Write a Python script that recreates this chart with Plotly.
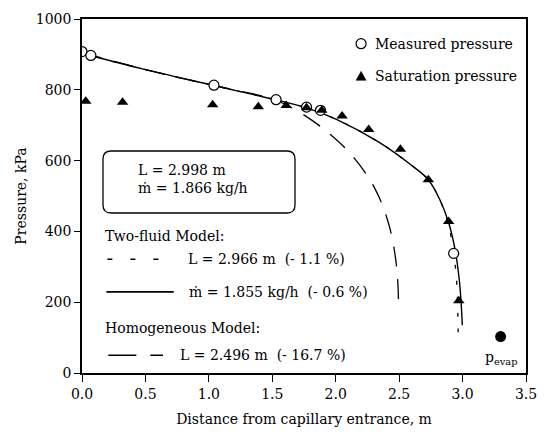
import plotly.graph_objects as go

# ---- data ----
meas_x = [0.0, 0.07, 1.04, 1.53, 1.77, 1.88, 2.93]
meas_p = [908, 897, 813, 772, 751, 742, 338]

sat_x = [0.03, 0.32, 1.03, 1.39, 1.61, 1.77, 1.89, 2.05, 2.26, 2.51, 2.73, 2.89, 2.97]
sat_p = [768, 765, 758, 752, 756, 749, 742, 726, 688, 632, 546, 428, 204]

evap_x = [3.30]
evap_p = [103]

tf_solid_x = [0.0, 0.07, 0.5, 1.04, 1.5, 1.77, 2.01, 2.34, 2.6, 2.73, 2.82, 2.89, 2.94, 2.975, 2.99, 2.998]
tf_solid_p = [905, 897, 857, 812, 774, 749, 716, 652, 586, 546, 490, 425, 350, 260, 190, 135]

tf_dash_x = [0.0, 0.07, 0.5, 1.04, 1.5, 1.77, 2.01, 2.34, 2.6, 2.73, 2.82, 2.885, 2.93, 2.955, 2.963, 2.966]
tf_dash_p = [905, 897, 857, 812, 774, 749, 716, 652, 586, 546, 490, 425, 340, 250, 160, 95]

hom_x = [0.0, 0.5, 1.04, 1.5, 1.68, 1.91, 2.13, 2.31, 2.42, 2.48, 2.496]
hom_p = [905, 857, 812, 774, 744, 688, 614, 520, 418, 300, 185]

x_ticks = [0.0, 0.5, 1.0, 1.5, 2.0, 2.5, 3.0, 3.5]
y_ticks = [0, 200, 400, 600, 800, 1000]

FONT = "DejaVu Serif, serif"

W, H = 548, 445
L_M, R_M, T_M, B_M = 82, 11, 15, 72
PW, PH = W - L_M - R_M, H - T_M - B_M


def px(x):
    return (x - L_M) / PW


def py(y):
    return (H - B_M - y) / PH


fig = go.Figure()

fig.add_trace(go.Scatter(x=hom_x, y=hom_p, mode="lines", line=dict(color="black", width=1.3, dash="20px,13px"),
                         line_shape="spline", showlegend=False))
fig.add_trace(go.Scatter(x=tf_dash_x, y=tf_dash_p, mode="lines", line=dict(color="black", width=1.3, dash="4px,12px"),
                         line_shape="spline", showlegend=False))
fig.add_trace(go.Scatter(x=tf_solid_x, y=tf_solid_p, mode="lines", line=dict(color="black", width=1.4),
                         line_shape="spline", showlegend=False))
fig.add_trace(go.Scatter(x=meas_x, y=meas_p, mode="markers",
                         marker=dict(symbol="circle", size=10, color="white", line=dict(color="black", width=1.2)),
                         showlegend=False))
fig.add_trace(go.Scatter(x=sat_x, y=sat_p, mode="markers",
                         marker=dict(symbol="triangle-up", size=10, color="black"), showlegend=False))
fig.add_trace(go.Scatter(x=evap_x, y=evap_p, mode="markers",
                         marker=dict(symbol="circle", size=11, color="black"), showlegend=False))

shapes = []
annotations = []


def note(text, x, y, size=14, xref="paper", xanchor="left"):
    annotations.append(dict(text=text, x=x, y=y, xref=xref, yref="paper", xanchor=xanchor, yanchor="middle",
                            showarrow=False, font=dict(family=FONT, size=size, color="black")))


# top-right legend
shapes.append(dict(type="circle", xref="paper", yref="paper", xsizemode="pixel", ysizemode="pixel",
                   xanchor=px(368), yanchor=py(40), x0=-5, x1=5, y0=-5, y1=5,
                   line=dict(color="black", width=1.2), fillcolor="white"))
shapes.append(dict(type="path", xref="paper", yref="paper", xsizemode="pixel", ysizemode="pixel",
                   xanchor=px(368), yanchor=py(73), path="M -5,-4 L 5,-4 L 0,5 Z",
                   line=dict(color="black", width=0.5), fillcolor="black"))
note("Measured pressure", px(380), py(40))
note("Saturation pressure", px(380), py(73))

# rounded box (pixel coordinates relative to plot top-left)
bx0, bx1, by0, by1, r = 103, 295, 147, 209, 8
pts = [("M", bx0 + r, by0), ("L", bx1 - r, by0), ("Q", bx1, by0, bx1, by0 + r),
       ("L", bx1, by1 - r), ("Q", bx1, by1, bx1 - r, by1), ("L", bx0 + r, by1),
       ("Q", bx0, by1, bx0, by1 - r), ("L", bx0, by0 + r), ("Q", bx0, by0, bx0 + r, by0)]
segs = []
for p in pts:
    cmd, coords = p[0], p[1:]
    xy = []
    for i in range(0, len(coords), 2):
        xy.append(f"{coords[i] - L_M},{-(coords[i + 1] - T_M)}")
    segs.append(cmd + " " + " ".join(xy))
shapes.append(dict(type="path", xref="paper", yref="paper", xsizemode="pixel", ysizemode="pixel",
                   xanchor=0, yanchor=1, path=" ".join(segs) + " Z",
                   line=dict(color="black", width=1.3), fillcolor="rgba(0,0,0,0)"))
note("L = 2.998 m", px(137), py(168))
note("ṁ = 1.866 kg/h", px(137), py(186))

# model legend
note("Two-fluid Model:", px(104), py(234))
shapes.append(dict(type="line", xref="paper", yref="paper", x0=px(108), x1=px(164), y0=py(258), y1=py(258),
                   line=dict(color="black", width=1.4, dash="5px,18px")))
note("L = 2.966 m  (- 1.1 %)", px(189), py(258))
shapes.append(dict(type="line", xref="paper", yref="paper", x0=px(107), x1=px(176), y0=py(291), y1=py(291),
                   line=dict(color="black", width=1.6)))
note("ṁ = 1.855 kg/h  (- 0.6 %)", px(190), py(291))
note("Homogeneous Model:", px(104), py(327))
shapes.append(dict(type="line", xref="paper", yref="paper", x0=px(109), x1=px(165), y0=py(355), y1=py(355),
                   line=dict(color="black", width=1.6, dash="28px,14px")))
note("L = 2.496 m  (- 16.7 %)", px(180), py(355))

note("p<sub>evap</sub>", 3.30, py(358), xref="x", xanchor="center")

fig.update_layout(
    width=W, height=H,
    margin=dict(l=L_M, r=R_M, t=T_M, b=B_M),
    paper_bgcolor="white", plot_bgcolor="white",
    font=dict(family=FONT, size=14, color="black"),
    shapes=shapes, annotations=annotations,
    showlegend=False,
)
fig.update_xaxes(range=[0, 3.5], tickvals=x_ticks, ticktext=[f"{v:.1f}" for v in x_ticks],
                 ticks="outside", ticklen=7, tickwidth=1.3, tickcolor="black",
                 showline=True, linecolor="black", linewidth=1.6, mirror=True,
                 showgrid=False, zeroline=False,
                 title=dict(text="Distance from capillary entrance, m", font=dict(family=FONT, size=14), standoff=14),
                 tickfont=dict(family=FONT, size=14, color="black"))
fig.update_yaxes(range=[0, 1000], tickvals=y_ticks, ticktext=[str(v) for v in y_ticks],
                 ticks="outside", ticklen=6, tickwidth=1.3, tickcolor="black",
                 showline=True, linecolor="black", linewidth=1.6, mirror=True,
                 showgrid=False, zeroline=False,
                 title=dict(text="Pressure, kPa", font=dict(family=FONT, size=14), standoff=6),
                 tickfont=dict(family=FONT, size=14, color="black"))

fig.write_html("out.html")
